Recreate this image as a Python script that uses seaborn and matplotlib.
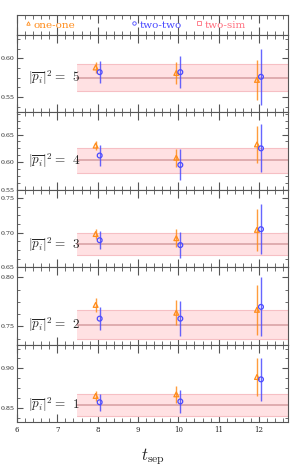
import numpy as np
import matplotlib
matplotlib.use("Agg")
import matplotlib.pyplot as plt
import seaborn as sns
from matplotlib.ticker import MultipleLocator, AutoMinorLocator

sns.set_style("ticks")
plt.rcParams["font.family"] = ["DejaVu Serif"]
plt.rcParams["mathtext.fontset"] = "cm"

# --- data ---
t_sep = [8, 10, 12]
p2 = [5, 4, 3, 2, 1]

oo_mean = [[0.588, 0.581, 0.572], [0.630, 0.608, 0.632], [0.698, 0.692, 0.704],
           [0.772, 0.764, 0.767], [0.865, 0.867, 0.889]]
oo_err = [[0.0075, 0.0143, 0.026], [0.0085, 0.016, 0.0335], [0.0073, 0.0134, 0.030],
          [0.0071, 0.0128, 0.0256], [0.0068, 0.011, 0.0243]]
tt_mean = [[0.582, 0.582, 0.576], [0.612, 0.595, 0.625], [0.689, 0.682, 0.705],
           [0.758, 0.758, 0.770], [0.857, 0.858, 0.886]]
tt_err = [[0.014, 0.021, 0.036], [0.0195, 0.028, 0.0435], [0.0128, 0.0188, 0.0363],
          [0.0119, 0.0177, 0.030], [0.0106, 0.0148, 0.0273]]
sim_mean = [0.575, 0.603, 0.683, 0.752, 0.854]
sim_err = [0.017, 0.0225, 0.016, 0.0145, 0.0138]

ylims = [(0.53, 0.63), (0.55, 0.69), (0.65, 0.762), (0.7315, 0.8105), (0.832, 0.93)]

c_oo = "#FF8C1A"
c_tt = "#4B4BFF"
c_sim = "#FF6F7F"
frame = "#555555"

fig = plt.figure(figsize=(2.91, 4.67), dpi=100)
gs = fig.add_gridspec(6, 1, height_ratios=[20] + [77.4] * 5, hspace=0,
                      left=17 / 291, right=288 / 291, top=1 - 15 / 467, bottom=1 - 422 / 467)
axes = [fig.add_subplot(gs[i]) for i in range(6)]


def style_ax(ax):
    ax.set_xlim(6.0, 12.72)
    ax.xaxis.set_major_locator(MultipleLocator(1))
    ax.xaxis.set_minor_locator(MultipleLocator(0.2))
    ax.tick_params(axis="both", which="both", direction="in", top=True, right=True,
                   color=frame, labelsize=4.5, pad=1.5)
    ax.tick_params(axis="x", which="major", length=6, width=0.8)
    ax.tick_params(axis="x", which="minor", length=3, width=0.6)
    ax.tick_params(axis="y", which="major", length=4, width=0.8)
    ax.tick_params(axis="y", which="minor", length=2, width=0.6)
    for s in ax.spines.values():
        s.set_color(frame)
        s.set_linewidth(0.8)
    ax.set_facecolor("white")


# legend panel
leg = axes[0]
style_ax(leg)
leg.set_ylim(0, 1)
leg.set_yticks([])
leg.tick_params(axis="x", labelbottom=False)
leg.plot([6.27], [0.62], marker="^", ms=2.5, mfc="none", mec=c_oo, mew=0.6, ls="none")
leg.text(6.42, 0.45, "one-one", color=c_oo, fontsize=7.5, va="center")
leg.plot([8.9], [0.62], marker="o", ms=2.5, mfc="none", mec=c_tt, mew=0.6, ls="none")
leg.text(9.03, 0.45, "two-two", color=c_tt, fontsize=7.5, va="center")
leg.plot([10.52], [0.62], marker="s", ms=2.3, mfc="none", mec=c_sim, mew=0.6, ls="none")
leg.text(10.65, 0.45, "two-sim", color=c_sim, fontsize=7.5, va="center")

for i, ax in enumerate(axes[1:]):
    style_ax(ax)
    ax.set_ylim(*ylims[i])
    ax.yaxis.set_major_locator(MultipleLocator(0.05))
    ax.yaxis.set_minor_locator(AutoMinorLocator(4))
    ax.yaxis.set_major_formatter(matplotlib.ticker.FormatStrFormatter("%.2f"))

    # two-sim band
    xb = np.array([7.5, 12.72])
    ax.fill_between(xb, sim_mean[i] - sim_err[i], sim_mean[i] + sim_err[i],
                    color="#FFE1E3", lw=0, zorder=1)
    for yy in (sim_mean[i] - sim_err[i], sim_mean[i] + sim_err[i]):
        ax.plot(xb, [yy, yy], color="#F6BFC4", lw=0.8, zorder=2)
    ax.plot(xb, [sim_mean[i]] * 2, color="#D9A3A6", lw=1.2, zorder=2)

    x_oo = np.array(t_sep) - 0.05
    x_tt = np.array(t_sep) + 0.05
    ax.errorbar(x_oo, oo_mean[i], yerr=oo_err[i], fmt="none", ecolor=c_oo, elinewidth=1.0,
                alpha=0.85, zorder=3)
    ax.errorbar(x_tt, tt_mean[i], yerr=tt_err[i], fmt="none", ecolor=c_tt, elinewidth=1.0,
                alpha=0.85, zorder=3)
    sns.scatterplot(x=x_oo, y=oo_mean[i], ax=ax, marker="^", s=12, facecolor="none",
                    edgecolor=c_oo, linewidth=0.9, zorder=4)
    sns.scatterplot(x=x_tt, y=tt_mean[i], ax=ax, marker="o", s=12, facecolor="none",
                    edgecolor=c_tt, linewidth=0.9, zorder=4)

    ax.text(6.27, sim_mean[i], r"$|\overline{p_i}|^2 = \;\,$" + f"${p2[i]}$", fontsize=9.5,
            va="center", ha="left", zorder=5)
    if i < 4:
        ax.tick_params(axis="x", labelbottom=False)
    ax.set_ylabel("")

axes[-1].tick_params(axis="x", labelsize=5, pad=3)
axes[-1].set_xlabel(r"$t_{\rm sep}$", fontsize=12, labelpad=9)

fig.savefig("out.png", dpi=100)
